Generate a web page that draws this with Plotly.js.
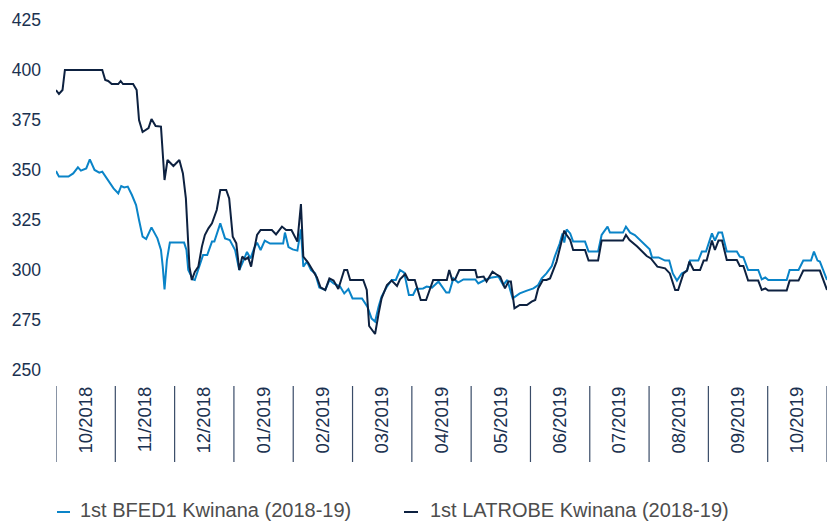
<!DOCTYPE html>
<html>
<head>
<meta charset="utf-8">
<script src="https://cdn.plot.ly/plotly-3.0.1.min.js"></script>
<style>html,body{margin:0;padding:0;background:#fff;}#chart{width:828px;height:522px;}</style>
</head>
<body>
<div id="chart"></div>
<script>
// Month category labels (x in month units: 0 = start of 10/2018, 13 = end of 10/2019)
var months = ["10/2018","11/2018","12/2018","01/2019","02/2019","03/2019","04/2019","05/2019","06/2019","07/2019","08/2019","09/2019","10/2019"];
var seriesNames = ["1st BFED1 Kwinana (2018-19)", "1st LATROBE Kwinana (2018-19)"];

// 1st BFED1 Kwinana (2018-19)
var bfedX = [0.00,0.05,0.21,0.29,0.37,0.42,0.51,0.57,0.65,0.73,0.78,0.87,0.97,1.05,1.10,1.15,1.21,1.28,1.35,1.40,1.46,1.52,1.61,1.71,1.77,1.80,1.83,1.87,1.92,2.16,2.20,2.23,2.31,2.34,2.42,2.48,2.55,2.63,2.67,2.77,2.85,2.93,3.02,3.09,3.16,3.22,3.28,3.34,3.39,3.45,3.52,3.61,3.83,3.86,3.92,3.99,4.07,4.13,4.17,4.23,4.30,4.37,4.44,4.54,4.61,4.68,4.79,4.86,4.93,5.00,5.16,5.25,5.32,5.38,5.44,5.49,5.58,5.66,5.73,5.80,5.87,5.95,6.02,6.07,6.19,6.25,6.34,6.39,6.45,6.58,6.63,6.70,6.78,6.87,7.07,7.12,7.23,7.35,7.46,7.54,7.61,7.70,7.82,7.94,8.05,8.13,8.19,8.27,8.36,8.41,8.49,8.54,8.57,8.61,8.67,8.72,8.92,8.98,9.14,9.20,9.30,9.34,9.56,9.61,9.68,9.76,9.88,10.01,10.05,10.16,10.27,10.34,10.40,10.47,10.55,10.64,10.69,10.83,10.89,10.96,11.06,11.11,11.17,11.23,11.31,11.48,11.53,11.59,11.67,11.84,11.90,11.96,12.01,12.32,12.37,12.52,12.60,12.73,12.78,12.84,12.88,13.00];
var bfedY = [349.5,346.7,346.7,348.3,351.3,349.7,350.8,355.3,350.0,348.7,349.2,345.3,340.8,338.3,342.0,341.3,341.7,337.5,332.5,325.0,316.7,315.5,321.3,315.8,310.0,301.7,290.3,305.0,313.7,313.7,310.0,300.0,295.3,295.0,301.7,307.5,307.5,314.2,314.2,323.3,315.8,315.0,310.0,300.0,304.7,309.0,305.8,310.8,313.7,310.0,314.7,313.2,313.2,318.7,311.5,310.3,309.7,320.3,301.7,304.2,300.0,298.3,291.3,290.0,295.0,293.3,291.7,288.3,290.5,285.8,285.8,281.7,275.8,274.2,281.7,286.7,291.7,295.0,295.0,300.0,298.7,287.5,287.5,290.5,290.8,291.7,291.2,292.5,294.2,288.7,288.7,295.8,293.7,295.3,295.3,293.3,295.0,296.3,296.7,292.5,295.0,285.8,288.3,289.7,290.8,292.5,295.8,298.3,302.0,306.7,313.0,318.3,313.7,320.3,318.3,314.2,314.2,309.2,309.2,317.5,321.7,318.7,318.7,321.7,318.7,317.5,314.2,310.3,306.3,306.3,304.7,304.7,298.3,294.7,298.3,299.7,304.7,304.7,309.2,309.2,318.3,314.7,318.7,318.7,309.2,309.2,306.7,306.3,300.0,300.0,295.3,296.3,295.0,295.0,300.0,300.0,304.7,304.7,309.2,304.7,304.2,295.0];

// 1st LATROBE Kwinana (2018-19)
var latX = [0.00,0.05,0.11,0.15,0.78,0.83,0.88,0.94,1.05,1.09,1.13,1.30,1.36,1.40,1.46,1.56,1.61,1.68,1.77,1.83,1.88,1.98,2.08,2.14,2.19,2.25,2.29,2.34,2.40,2.46,2.51,2.57,2.63,2.71,2.77,2.87,2.92,2.98,3.04,3.09,3.14,3.19,3.24,3.29,3.34,3.39,3.45,3.64,3.71,3.81,3.88,3.97,4.07,4.13,4.17,4.25,4.31,4.40,4.46,4.54,4.61,4.68,4.76,4.86,4.91,4.96,5.18,5.24,5.28,5.38,5.44,5.49,5.58,5.66,5.75,5.80,5.89,5.94,6.05,6.15,6.24,6.36,6.59,6.63,6.68,6.73,6.80,7.07,7.10,7.21,7.26,7.36,7.44,7.49,7.57,7.63,7.67,7.73,7.82,7.94,8.02,8.08,8.13,8.21,8.27,8.33,8.44,8.50,8.57,8.61,8.67,8.72,8.92,8.98,9.14,9.20,9.56,9.61,9.67,9.80,9.96,10.03,10.14,10.27,10.35,10.44,10.49,10.58,10.64,10.68,10.75,10.86,10.92,10.97,11.06,11.11,11.17,11.23,11.31,11.48,11.53,11.59,11.67,11.84,11.90,11.96,12.01,12.32,12.37,12.52,12.60,12.88,13.00];
var latY = [390.0,388.0,390.0,400.0,400.0,395.0,394.5,393.0,393.0,394.5,393.0,393.0,390.0,375.0,369.0,371.0,375.5,372.0,371.7,345.0,355.0,352.0,355.0,348.3,335.8,301.7,295.0,299.0,301.7,311.7,317.5,320.8,323.3,330.0,340.0,340.0,335.8,316.7,313.3,300.0,306.7,305.3,306.3,301.7,310.0,317.5,320.0,320.0,317.8,321.7,320.0,320.0,314.2,333.0,306.7,303.7,300.8,296.3,291.3,290.0,295.8,294.7,290.5,300.0,300.0,295.0,295.0,290.0,272.0,268.0,278.3,285.8,292.5,294.7,292.0,295.3,298.0,295.0,295.0,285.0,285.0,295.0,295.0,300.0,295.0,295.3,300.0,300.0,296.3,296.7,294.2,299.2,297.5,296.7,290.8,294.2,294.2,280.8,282.5,282.5,284.2,285.0,290.8,295.0,295.0,295.8,304.2,311.7,319.7,317.5,315.0,310.0,310.0,304.7,304.7,314.7,314.7,317.5,315.0,311.7,307.0,305.8,301.7,300.8,298.3,290.0,290.0,298.3,299.7,304.2,300.0,300.0,304.7,304.7,314.7,310.0,314.7,314.7,305.0,305.0,302.0,302.0,294.7,294.7,290.0,290.8,289.7,289.7,294.7,294.7,299.7,299.7,290.0];

var yTicks = [250, 275, 300, 325, 350, 375, 400, 425];
var colors = ["#0a84c8", "#0d2140"];
var navy = "#1a3150";

var tickVals = months.map(function(m, i){ return i + 0.5; });

var traces = [
  {x: bfedX, y: bfedY, type: "scatter", mode: "lines", name: seriesNames[0], line: {color: colors[0], width: 2}, showlegend: false, hoverinfo: "y"},
  {x: latX, y: latY, type: "scatter", mode: "lines", name: seriesNames[1], line: {color: colors[1], width: 2}, showlegend: false, hoverinfo: "y"}
];

var plotW = 771, plotH = 350;
function px2paperX(px){ return (px - 56) / plotW; }
function px2paperY(py){ return (370 - py) / plotH; }

var shapes = [];
for (var i = 0; i <= months.length; i++) {
  shapes.push({type: "line", xref: "x", yref: "paper", x0: i, x1: i, y0: px2paperY(386), y1: px2paperY(462), line: {color: "#3a4c68", width: 1.2}});
}
// custom legend dashes
shapes.push({type: "line", xref: "paper", yref: "paper", x0: px2paperX(57), x1: px2paperX(70), y0: px2paperY(512), y1: px2paperY(512), line: {color: colors[0], width: 2}});
shapes.push({type: "line", xref: "paper", yref: "paper", x0: px2paperX(404), x1: px2paperX(418), y0: px2paperY(512), y1: px2paperY(512), line: {color: colors[1], width: 2}});

var legendFont = {family: "Liberation Sans, Arial, sans-serif", size: 20, color: "#4d4d4d"};
var annotations = [
  {xref: "paper", yref: "paper", x: px2paperX(79), y: px2paperY(510), xanchor: "left", yanchor: "middle", showarrow: false, borderpad: 0, text: seriesNames[0], font: legendFont},
  {xref: "paper", yref: "paper", x: px2paperX(429), y: px2paperY(510), xanchor: "left", yanchor: "middle", showarrow: false, borderpad: 0, text: seriesNames[1], font: legendFont}
];

var layout = {
  width: 828, height: 522,
  margin: {l: 56, r: 1, t: 20, b: 152, pad: 0},
  paper_bgcolor: "#ffffff", plot_bgcolor: "#ffffff",
  showlegend: false,
  font: {family: "Liberation Sans, Arial, sans-serif", color: navy},
  xaxis: {
    range: [0, 13], showgrid: false, zeroline: false, showline: false, ticks: "",
    tickmode: "array", tickvals: tickVals, ticktext: months, tickangle: -90,
    tickfont: {size: 18.5, color: navy}, ticklabelstandoff: 12, fixedrange: true
  },
  yaxis: {
    range: [250, 425], showgrid: false, zeroline: false, showline: false, ticks: "",
    tickmode: "array", tickvals: yTicks, tickfont: {size: 17.5, color: navy},
    ticklabelstandoff: 14, fixedrange: true
  },
  shapes: shapes,
  annotations: annotations
};

Plotly.newPlot("chart", traces, layout, {displayModeBar: false, staticPlot: true});
</script>
</body>
</html>
